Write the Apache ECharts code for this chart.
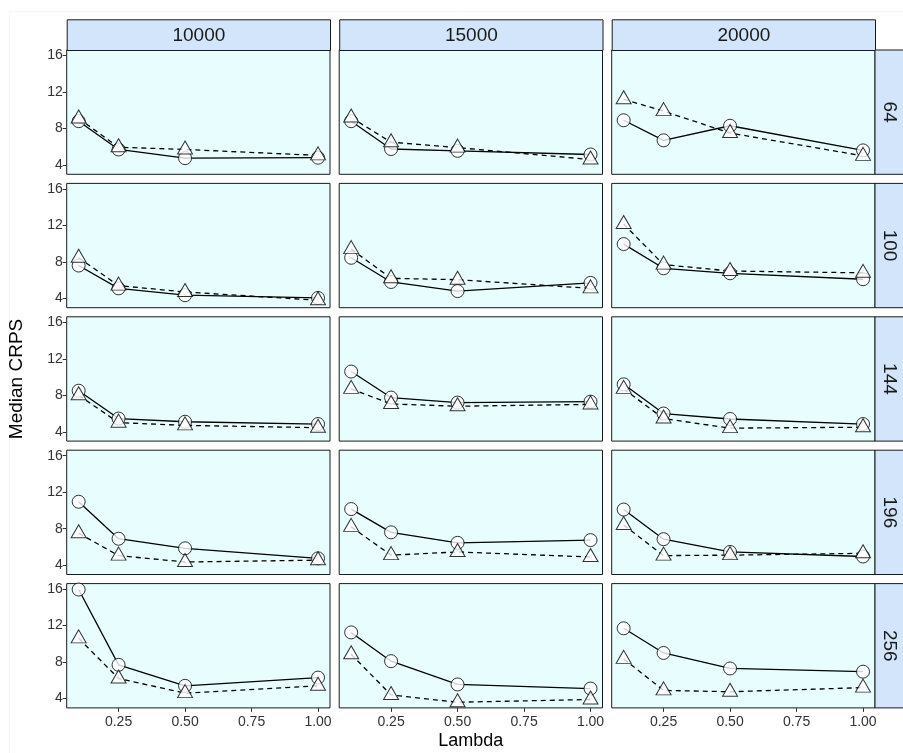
<!DOCTYPE html>
<html>
<head>
<meta charset="utf-8">
<script src="https://cdn.jsdelivr.net/npm/echarts@6/dist/echarts.min.js"></script>
<style>
  html, body { margin: 0; padding: 0; background: #ffffff; }
  #chart { width: 903px; height: 753px; }
</style>
</head>
<body>
<div id="chart"></div>
<script>
// facets
var colLabels = ['10000', '15000', '20000'];
var rowLabels = ['64', '100', '144', '196', '256'];
var lambdas = [0.1, 0.25, 0.5, 1.0];
var xTicks = [0.25, 0.5, 0.75, 1.0];
var yTicks = [4, 8, 12, 16];

// median CRPS, one array per column (10000, 15000, 20000)
var circle64 = [[8.8, 5.7, 4.75, 4.8], [8.8, 5.75, 5.55, 5.15], [8.9, 6.7, 8.3, 5.6]];
var triangle64 = [[9.1, 5.95, 5.7, 5.05], [9.2, 6.5, 5.9, 4.6], [11.2, 9.9, 7.5, 5.0]];
var circle100 = [[7.6, 5.1, 4.35, 4.05], [8.45, 5.8, 4.8, 5.7], [9.95, 7.3, 6.75, 6.1]];
var triangle100 = [[8.45, 5.4, 4.7, 3.8], [9.4, 6.2, 6.05, 5.1], [12.15, 7.7, 7.0, 6.8]];
var circle144 = [[8.5, 5.45, 5.1, 4.85], [10.6, 7.75, 7.2, 7.3], [9.2, 6.0, 5.4, 4.85]];
var triangle144 = [[8.0, 5.0, 4.7, 4.45], [8.7, 7.05, 6.8, 7.0], [8.7, 5.45, 4.4, 4.5]];
var circle196 = [[10.95, 6.9, 5.85, 4.75], [10.15, 7.6, 6.45, 6.75], [10.1, 6.85, 5.45, 4.95]];
var triangle196 = [[7.5, 5.05, 4.35, 4.55], [8.2, 5.1, 5.45, 4.9], [8.4, 5.05, 5.1, 5.3]];
var circle256 = [[15.95, 7.7, 5.4, 6.3], [11.25, 8.1, 5.55, 5.1], [11.7, 9.0, 7.3, 6.95]];
var triangle256 = [[10.6, 6.2, 4.6, 5.4], [8.85, 4.4, 3.6, 3.9], [8.35, 4.9, 4.75, 5.2]];

var circleRows = [circle64, circle100, circle144, circle196, circle256];
var triangleRows = [triangle64, triangle100, triangle144, triangle196, triangle256];

var FONT = '"Liberation Sans", Arial, Helvetica, sans-serif';
var panelLeft = 66.7, panelStepX = 272.5, panelW = 263.3;
var panelTop = 50, panelStepY = 133.4, panelH = 124.3;
var stripH = 30.7, stripW = 31;
var panelBg = '#e8fefe', stripBg = '#d3e5fb';

var grids = [], xAxes = [], yAxes = [], series = [], graphics = [];

function pts(vals) {
  return lambdas.map(function (x, i) { return [x, vals[i]]; });
}

for (var r = 0; r < rowLabels.length; r++) {
  for (var c = 0; c < colLabels.length; c++) {
    var gi = r * 3 + c;
    var isBottom = r === rowLabels.length - 1;
    var isLeft = c === 0;
    grids.push({
      left: panelLeft + c * panelStepX,
      top: panelTop + r * panelStepY,
      width: panelW,
      height: panelH,
      show: true,
      backgroundColor: panelBg,
      borderColor: '#1a1a1a',
      borderWidth: 1
    });
    xAxes.push({
      gridIndex: gi, type: 'value', min: 0.055, max: 1.045,
      axisLine: { show: false },
      splitLine: { show: false },
      axisTick: { show: isBottom, customValues: xTicks, length: 4, lineStyle: { color: '#333', width: 1 } },
      axisLabel: {
        show: isBottom, customValues: xTicks, margin: 7,
        fontSize: 14, color: '#333', fontFamily: FONT,
        formatter: function (v) { return v.toFixed(2); }
      }
    });
    yAxes.push({
      gridIndex: gi, type: 'value', min: 2.98, max: 16.6,
      axisLine: { show: false },
      splitLine: { show: false },
      axisTick: { show: isLeft, customValues: yTicks, length: 4, lineStyle: { color: '#333', width: 1 } },
      axisLabel: { show: isLeft, customValues: yTicks, margin: 4, fontSize: 14, color: '#333', fontFamily: FONT }
    });

    var cv = circleRows[r][c], tv = triangleRows[r][c];
    series.push({
      type: 'line', xAxisIndex: gi, yAxisIndex: gi, data: pts(cv),
      showSymbol: false, silent: true, z: 2,
      lineStyle: { color: '#000', width: 1.3 }
    });
    series.push({
      type: 'line', xAxisIndex: gi, yAxisIndex: gi, data: pts(tv),
      showSymbol: false, silent: true, z: 2,
      lineStyle: { color: '#000', width: 1.3, type: [5, 4] }
    });
    series.push({
      type: 'scatter', xAxisIndex: gi, yAxisIndex: gi, data: pts(cv),
      symbol: 'circle', symbolSize: 13, z: 3,
      itemStyle: { color: '#fff', borderColor: '#000', borderWidth: 1 }
    });
    series.push({
      type: 'scatter', xAxisIndex: gi, yAxisIndex: gi, data: pts(tv),
      symbol: 'triangle', symbolSize: [15, 13], symbolOffset: [0, -2], z: 4,
      itemStyle: { color: '#fff', borderColor: '#000', borderWidth: 1 }
    });
  }
}

// top strips
colLabels.forEach(function (lab, c) {
  graphics.push({
    type: 'group', left: panelLeft + c * panelStepX, top: panelTop - stripH,
    children: [
      { type: 'rect', shape: { x: 0, y: 0, width: panelW, height: stripH },
        style: { fill: stripBg, stroke: '#1a1a1a', lineWidth: 1 } },
      { type: 'text', x: panelW / 2, y: stripH / 2 + 1,
        style: { text: lab, fill: '#1a1a1a', font: '19px ' + FONT, textAlign: 'center', textVerticalAlign: 'middle' } }
    ]
  });
});

// right strips
rowLabels.forEach(function (lab, r) {
  var x0 = panelLeft + 2 * panelStepX + panelW;
  var y0 = panelTop + r * panelStepY;
  graphics.push({
    type: 'rect', shape: { x: x0, y: y0, width: stripW, height: panelH },
    style: { fill: stripBg, stroke: '#1a1a1a', lineWidth: 1 }
  });
  graphics.push({
    type: 'text', x: x0 + stripW / 2 - 1, y: y0 + panelH / 2, rotation: -Math.PI / 2,
    style: { text: lab, fill: '#1a1a1a', font: '19px ' + FONT, textAlign: 'center', textVerticalAlign: 'middle' }
  });
});

// axis titles
graphics.push({
  type: 'text', x: 17, y: panelTop + (4 * panelStepY + panelH) / 2, rotation: Math.PI / 2,
  style: { text: 'Median CRPS', fill: '#000', font: '19px ' + FONT, textAlign: 'center', textVerticalAlign: 'middle' }
});
graphics.push({
  type: 'text', x: panelLeft + (2 * panelStepX + panelW) / 2, y: 741,
  style: { text: 'Lambda', fill: '#000', font: '18px ' + FONT, textAlign: 'center', textVerticalAlign: 'middle' }
});
// faint outer frame
graphics.push({
  type: 'rect', shape: { x: 9.5, y: 11.5, width: 900, height: 750 }, z: -1,
  style: { fill: 'none', stroke: '#eef9f9', lineWidth: 1 }
});

var chart = echarts.init(document.getElementById('chart'), null, { renderer: 'canvas' });
chart.setOption({
  animation: false,
  backgroundColor: '#ffffff',
  grid: grids,
  xAxis: xAxes,
  yAxis: yAxes,
  series: series,
  graphic: graphics
});
</script>
</body>
</html>
